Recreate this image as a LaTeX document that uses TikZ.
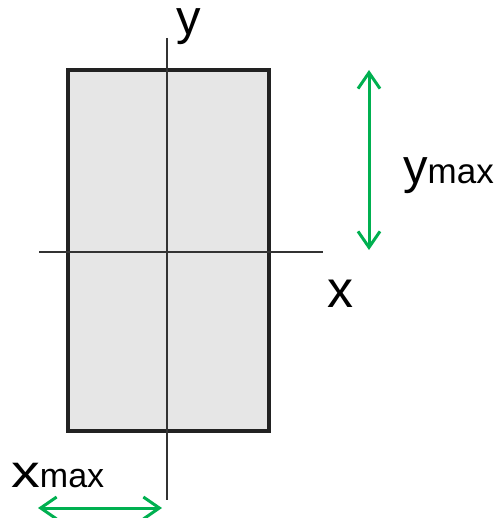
\documentclass[tikz,border=0pt]{standalone}
\usepackage{fontspec}
\setmainfont{Liberation Sans}
\usetikzlibrary{arrows.meta}
\definecolor{boxfill}{HTML}{E6E6E6}
\definecolor{boxline}{HTML}{222222}
\definecolor{axisline}{HTML}{333333}
\definecolor{dimgreen}{HTML}{00B050}
\tikzset{
  axisstyle/.style={draw=axisline, line width=1.8pt},
  dimarrow/.style={draw=dimgreen, line width=3pt,
    {Straight Barb[length=16pt,width=22pt,line width=3pt]}-{Straight Barb[length=16pt,width=22pt,line width=3pt]}},
  lbl/.style={inner sep=0pt, anchor=base west, text=black},
}
\begin{document}
\begin{tikzpicture}[x=1pt,y=-1pt]
\useasboundingbox (0,0) rectangle (499,518);
% section
\node[draw=boxline, fill=boxfill, line width=4pt, minimum width=201pt, minimum height=361pt, inner sep=0pt] (box) at (168.5,250.5) {};
% axes
\coordinate (yt) at (167,38);
\coordinate (yb) at (167,500);
\coordinate (xl) at (39,252);
\coordinate (xr) at (323,252);
\draw[axisstyle] (yt) -- (yb);
\draw[axisstyle] (xl) -- (xr);
% labels
\node[lbl] (ylab) at (176,35) {\fontsize{49}{49}\selectfont y};
\node[lbl] (xlab) at (327,307) {\fontsize{52}{52}\selectfont x};
\node[lbl] (ymaxlab) at (403,184) {\fontsize{49}{49}\selectfont y\fontsize{35}{35}\selectfont max};
\node[lbl] (xmaxlab) at (11,487) {\scalebox{1.25}[1]{\fontsize{46}{46}\selectfont x}\fontsize{34}{34}\selectfont max};
% dimension arrows
\coordinate (ya) at (369,70);
\coordinate (yb2) at (369,250);
\coordinate (xa) at (38,508);
\coordinate (xb) at (162,508);
\draw[dimarrow] (ya) -- (yb2);
\draw[dimarrow] (xa) -- (xb);
\end{tikzpicture}
\end{document}
